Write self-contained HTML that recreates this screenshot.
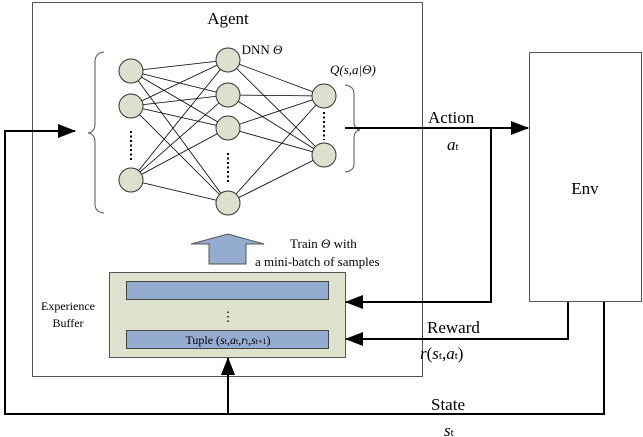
<!DOCTYPE html>
<html><head><style>body{margin:0;background:#fff}svg{display:block}svg text{font-family:"Liberation Serif","Times New Roman",Times,serif;fill:#000}</style></head><body>
<svg width="643" height="437" viewBox="0 0 643 437" xmlns="http://www.w3.org/2000/svg" font-family="Liberation Serif, Times New Roman, serif">
<defs><marker id="ab" markerWidth="18" markerHeight="14" refX="17" refY="7" orient="auto" markerUnits="userSpaceOnUse"><path d="M0,0 L18,7 L0,14 Z" fill="#000"/></marker></defs>
<rect x="32.5" y="2.5" width="390" height="374" fill="none" stroke="#555" stroke-width="1"/>
<rect x="529.5" y="52.5" width="112" height="249" fill="none" stroke="#555" stroke-width="1"/>
<text x="228" y="24" font-size="17" text-anchor="middle">Agent</text>
<text x="262" y="54" font-size="13" text-anchor="middle">DNN <tspan font-style="italic">Θ</tspan></text>
<text x="330" y="74" font-size="13" font-style="italic">Q(s,a|Θ)</text>
<text x="585" y="194" font-size="17" text-anchor="middle">Env</text>
<g stroke="#000" stroke-width="0.8">
<line x1="131" y1="71" x2="228" y2="60"/><line x1="131" y1="71" x2="228" y2="95"/><line x1="131" y1="71" x2="228" y2="128"/><line x1="131" y1="71" x2="228" y2="203"/>
<line x1="131" y1="106" x2="228" y2="60"/><line x1="131" y1="106" x2="228" y2="95"/><line x1="131" y1="106" x2="228" y2="128"/><line x1="131" y1="106" x2="228" y2="203"/>
<line x1="131" y1="180" x2="228" y2="60"/><line x1="131" y1="180" x2="228" y2="95"/><line x1="131" y1="180" x2="228" y2="128"/><line x1="131" y1="180" x2="228" y2="203"/>
<line x1="228" y1="60" x2="324" y2="96"/><line x1="228" y1="60" x2="324" y2="155"/>
<line x1="228" y1="95" x2="324" y2="96"/><line x1="228" y1="95" x2="324" y2="155"/>
<line x1="228" y1="128" x2="324" y2="96"/><line x1="228" y1="128" x2="324" y2="155"/>
<line x1="228" y1="203" x2="324" y2="96"/><line x1="228" y1="203" x2="324" y2="155"/>
</g>
<g fill="#dde0cc" stroke="#333" stroke-width="1">
<circle cx="131" cy="71" r="12"/><circle cx="131" cy="106" r="12"/><circle cx="131" cy="180" r="12"/>
<circle cx="228" cy="60" r="12"/><circle cx="228" cy="95" r="12"/><circle cx="228" cy="128" r="12"/><circle cx="228" cy="203" r="12"/>
<circle cx="324" cy="96" r="12"/><circle cx="324" cy="155" r="12"/>
</g>
<g stroke="#000" stroke-width="2" stroke-dasharray="2,2.5"><line x1="131" y1="131" x2="131" y2="160"/><line x1="228" y1="153" x2="228" y2="182"/><line x1="324" y1="112" x2="324" y2="140"/></g>
<path d="M104,52 Q95,53 95,62 L95,124 Q95,132 88,133 Q95,134 95,142 L95,204 Q95,212 104,213" fill="none" stroke="#555" stroke-width="1"/>
<path d="M345,85 Q354,86 354,94 L354,122 Q354,129 360,130 Q354,131 354,138 L354,164 Q354,171 345,172" fill="none" stroke="#555" stroke-width="1"/>
<path d="M209,264 L209,244 L191,244 L228,234 L264,244 L246,244 L246,264 Z" fill="#94acd0" stroke="#555" stroke-width="1"/>
<text x="290" y="248" font-size="13">Train <tspan font-style="italic">Θ</tspan>  with</text>
<text x="255" y="266" font-size="13">a mini-batch of samples</text>
<rect x="109.5" y="272.5" width="236" height="85" fill="#dde2cc" stroke="#555"/>
<rect x="126.5" y="281.5" width="202" height="18" fill="#94acd0" stroke="#444"/>
<rect x="126.5" y="330.5" width="202" height="18" fill="#94acd0" stroke="#444"/>
<text x="228" y="321" font-size="13" text-anchor="middle">⋮</text>
<text x="228" y="344" font-size="12" text-anchor="middle">Tuple (<tspan font-style="italic">s</tspan><tspan font-size="8">t</tspan>,<tspan font-style="italic">a</tspan><tspan font-size="8">t</tspan>,<tspan font-style="italic">r</tspan><tspan font-size="8">t</tspan>,<tspan font-style="italic">s</tspan><tspan font-size="8">t+1</tspan>)</text>
<text x="68" y="310" font-size="12" text-anchor="middle">Experience</text>
<text x="68" y="327" font-size="12" text-anchor="middle">Buffer</text>
<g fill="none" stroke="#000" stroke-width="2">
<line x1="345" y1="128" x2="528" y2="128" marker-end="url(#ab)"/>
<polyline points="491,128 491,302 346,302" marker-end="url(#ab)"/>
<polyline points="568,302 568,339 346,339" marker-end="url(#ab)"/>
<polyline points="604,302 604,414 5,414 5,131 75,131" marker-end="url(#ab)"/>
<line x1="228" y1="414" x2="228" y2="358" marker-end="url(#ab)"/>
</g>
<text x="428" y="123" font-size="17">Action</text>
<text x="447" y="150" font-size="17" font-style="italic">a<tspan font-size="11" font-style="normal">t</tspan></text>
<text x="427" y="333" font-size="17">Reward</text>
<text x="420" y="359" font-size="17"><tspan font-style="italic">r</tspan>(<tspan font-style="italic">s</tspan><tspan font-size="11">t</tspan>,<tspan font-style="italic">a</tspan><tspan font-size="11">t</tspan>)</text>
<text x="431" y="410" font-size="17">State</text>
<text x="444" y="436" font-size="17" font-style="italic">s<tspan font-size="11" font-style="normal">t</tspan></text>
</svg>
</body></html>
